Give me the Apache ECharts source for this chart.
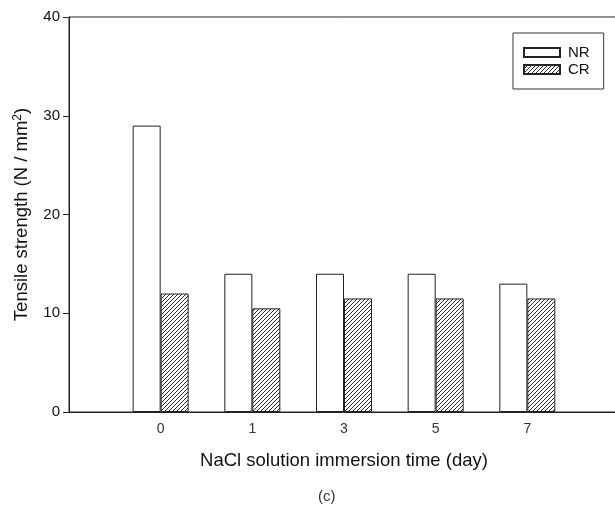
<!DOCTYPE html>
<html>
<head>
<meta charset="utf-8">
<script src="https://cdn.jsdelivr.net/npm/echarts@6/dist/echarts.min.js"></script>
<style>
  html, body { margin: 0; padding: 0; background: #fff; }
  #chart { width: 615px; height: 508px; }
</style>
</head>
<body>
<div id="chart"></div>
<script>
// immersion time (day)
const days = ['0', '1', '3', '5', '7'];
// tensile strength, N/mm2
const nrValues = [29, 14, 14, 14, 13];
const crValues = [12, 10.5, 11.5, 11.5, 11.5];
const yTicks = { min: 0, max: 40, interval: 10 };

// hatch pattern for CR
function makeHatch() {
    let c = document.createElement('canvas');
    c.width = 4;
    c.height = 4;
    let ctx = c.getContext('2d');
    ctx.fillStyle = '#fff';
    ctx.fillRect(0, 0, 4, 4);
    ctx.fillStyle = '#2a2a2a';
    for (let i = 0; i < 4; i++) {
        ctx.fillRect(i, 3 - i, 1, 1);
    }
    return c;
}

let myChart = echarts.init(document.getElementById('chart'));

// empty slots at both ends so the days sit one step in from the edges
let cats = [''].concat(days, ['']);
let nrData = [null].concat(nrValues, [null]);
let crData = [null].concat(crValues, [null]);

let font = 'Liberation Sans, Arial, sans-serif';

let option = {
    animation: false,
    backgroundColor: '#fff',
    grid: {
        left: 69,
        right: -4,
        top: 17,
        bottom: 96,
        show: true,
        borderColor: '#222',
        borderWidth: 1,
        containLabel: false,
        outerBoundsMode: 'none'
    },
    legend: {
        orient: 'vertical',
        left: 513,
        top: 33,
        padding: [12, 14, 12, 10],
        itemWidth: 36,
        itemHeight: 9,
        itemGap: 2,
        borderColor: '#333',
        borderWidth: 1,
        icon: 'rect',
        textStyle: { fontFamily: font, fontSize: 15, color: '#111', padding: [0, 0, 0, 3] },
        data: ['NR', 'CR']
    },
    xAxis: {
        type: 'category',
        data: cats,
        boundaryGap: false,
        name: 'NaCl solution immersion time (day)',
        nameLocation: 'middle',
        nameGap: 39,
        nameTextStyle: { fontFamily: font, fontSize: 18.5, color: '#111' },
        axisLine: { lineStyle: { color: '#222', width: 1 } },
        axisTick: { show: false },
        axisLabel: { margin: 10, fontFamily: font, fontSize: 14, color: '#333', interval: 0 },
        splitLine: { show: false }
    },
    yAxis: {
        type: 'value',
        min: yTicks.min,
        max: yTicks.max,
        interval: yTicks.interval,
        name: 'Tensile strength (N / mm{sup|2})',
        nameLocation: 'middle',
        nameGap: 37,
        nameTextStyle: {
            fontFamily: font, fontSize: 18.5, color: '#111',
            rich: {
                sup: { fontFamily: font, fontSize: 12, color: '#111', verticalAlign: 'top', padding: [0, 0, 8, 0] }
            }
        },
        axisLine: { show: true, lineStyle: { color: '#222', width: 1 } },
        axisTick: { show: true, length: 6, lineStyle: { color: '#222' } },
        axisLabel: { margin: 9, fontFamily: font, fontSize: 15, color: '#111' },
        splitLine: { show: false }
    },
    series: [
        {
            name: 'NR',
            type: 'bar',
            data: nrData,
            barWidth: 28,
            barGap: '0%',
            itemStyle: { color: '#fff', borderColor: '#222', borderWidth: 1 }
        },
        {
            name: 'CR',
            type: 'bar',
            data: crData,
            barWidth: 28,
            barGap: '0%',
            itemStyle: { color: { image: makeHatch(), repeat: 'repeat' }, borderColor: '#222', borderWidth: 1 }
        }
    ],
    graphic: [
        {
            type: 'text',
            left: 318,
            top: 489,
            style: { text: '(c)', fontFamily: font, fontSize: 15, fill: '#333' }
        }
    ]
};

myChart.setOption(option, true);
</script>
</body>
</html>
